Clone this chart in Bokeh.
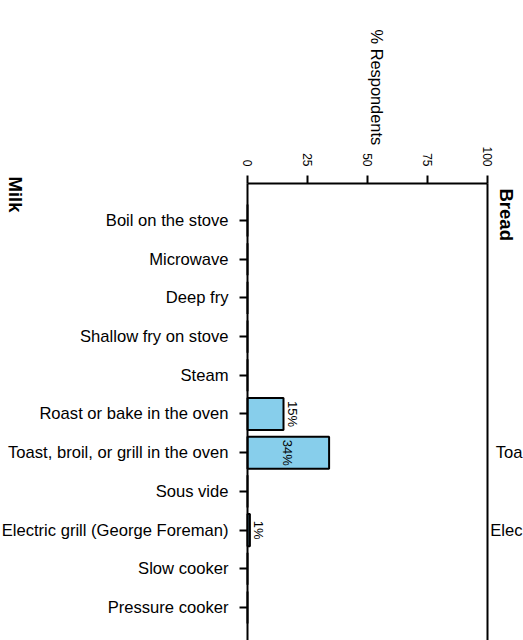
import math
from bokeh.plotting import figure
from bokeh.models import Range1d, LinearAxis, FixedTicker, ColumnDataSource
from bokeh.core.properties import value
from bokeh.embed import file_html
from bokeh.resources import INLINE

# ---- data ----
methods = [
    "Boil on the stove",
    "Microwave",
    "Deep fry",
    "Shallow fry on stove",
    "Steam",
    "Roast or bake in the oven",
    "Toast, broil, or grill in the oven",
    "Sous vide",
    "Electric grill (George Foreman)",
    "Slow cooker",
    "Pressure cooker",
]
bread_pct = [0, 0, 0, 0, 0, 15, 34, 0, 1, 0, 0]
x_ticks = [0, 25, 50, 75, 100]
panel_title = "Bread"
prev_panel_title = "Milk"
# labels of the next panel, cut by the picture's edge
next_panel_visible = ["Toa", "Elec"]
next_panel_rows = ["Toast, broil, or grill in the oven", "Electric grill (George Foreman)"]
axis_title = "% Respondents"

FONT = "Liberation Sans"
n = len(methods)
ypos = list(range(n))

W, H = 523, 640
X0_PX, PX_PER_X = 247, 2.4          # x=0 at 247px, 2.4 px per percent
TOP_PX, BAND = 183, 38.7             # top axis at 183px, 38.7 px per row
Y_TOP = -0.956                       # data y of the top axis

x_start = -X0_PX / PX_PER_X
x_end = (W - X0_PX) / PX_PER_X
y_min = Y_TOP - TOP_PX / BAND
y_max = Y_TOP + (H - TOP_PX) / BAND

p = figure(
    width=W, height=H,
    x_range=Range1d(x_start, x_end),
    y_range=Range1d(y_max, y_min),
    output_backend="svg", toolbar_location=None,
    x_axis_location=None, y_axis_location=None,
    min_border=0,
)
p.outline_line_color = None
p.background_fill_color = "white"
p.border_fill_color = "white"
p.grid.visible = False
p.xgrid.grid_line_color = None
p.ygrid.grid_line_color = None

# top axis (fixed at the panel's top edge)
top = LinearAxis(ticker=FixedTicker(ticks=x_ticks), bounds=(0, 100), fixed_location=Y_TOP)
top.axis_line_width = 2
top.axis_line_color = "black"
top.major_tick_line_width = 2
top.major_tick_out = 8
top.major_tick_in = 0
top.minor_tick_out = 0
top.minor_tick_in = 0
top.major_label_orientation = -math.pi / 2
top.major_label_text_font = FONT
top.major_label_text_font_size = "12px"
top.major_label_text_color = "black"
top.major_label_standoff = 9
p.add_layout(top, "above")

# left axis (category axis)
left = LinearAxis(ticker=FixedTicker(ticks=ypos), bounds=(Y_TOP, y_max), fixed_location=0,
                  major_label_overrides={i: m for i, m in enumerate(methods)})
left.axis_line_width = 2
left.axis_line_color = "black"
left.major_tick_line_width = 2
left.major_tick_out = 8
left.major_tick_in = 0
left.minor_tick_out = 0
left.minor_tick_in = 0
left.major_label_text_font = FONT
left.major_label_text_font_size = "16.6px"
left.major_label_text_color = "black"
left.major_label_standoff = 11
p.add_layout(left, "left")

# right border of the panel
right = LinearAxis(ticker=FixedTicker(ticks=[]), bounds=(Y_TOP, y_max), fixed_location=100)
right.axis_line_width = 2
right.axis_line_color = "black"
right.major_tick_out = 0
right.major_tick_in = 0
right.minor_tick_out = 0
right.minor_tick_in = 0
right.major_label_text_font_size = "0px"
p.add_layout(right, "right")

# bars
src = ColumnDataSource(dict(y=ypos, v=bread_pct))
p.hbar(y="y", right="v", left=0, height=0.83, source=src,
       fill_color="#87CEEB", line_color="black", line_width=2)

# value labels: inside the bar when long, just past its end otherwise
lx, ly, lt, lo = [], [], [], []
for i, v in enumerate(bread_pct):
    if v > 0:
        inside = v > 20
        lx.append(v / 2 if inside else v)
        ly.append(i)
        lt.append(f"{v}%")
        lo.append(-1 if inside else 9)
lab_src = ColumnDataSource(dict(x=lx, y=ly, t=lt, o=lo))
p.text(x="x", y="y", text="t", source=lab_src, angle=-math.pi / 2,
       text_align="center", text_baseline="middle", x_offset="o",
       text_font=value(FONT), text_font_size="13px", text_color="black")

# strip titles and axis title (rotated, reading downwards)
def px_x(px):
    return (px - X0_PX) / PX_PER_X

def px_y(py):
    return Y_TOP + (py - TOP_PX) / BAND

titles = ColumnDataSource(dict(
    x=[px_x(506), px_x(14.5)],
    y=[px_y(188), px_y(176)],
    t=[panel_title, prev_panel_title],
))
p.text(x="x", y="y", text="t", source=titles, angle=-math.pi / 2,
       text_align="left", text_baseline="middle",
       text_font=value(FONT), text_font_style="bold", text_font_size="18.5px",
       text_color="black")

p.text(x=[px_x(376)], y=[px_y(29)], text=[axis_title], angle=-math.pi / 2,
       text_align="left", text_baseline="middle",
       text_font=value(FONT), text_font_size="16.4px", text_color="black")

# next panel's category labels, as far as they are visible
nsrc = ColumnDataSource(dict(x=[px_x(522)] * len(next_panel_visible),
                             y=[methods.index(t) for t in next_panel_rows],
                             t=next_panel_visible))
p.text(x="x", y="y", text="t", source=nsrc, text_align="right", text_baseline="middle",
       text_font=value(FONT), text_font_size="16.6px", text_color="black")

open("out.html", "w").write(file_html(p, INLINE))
